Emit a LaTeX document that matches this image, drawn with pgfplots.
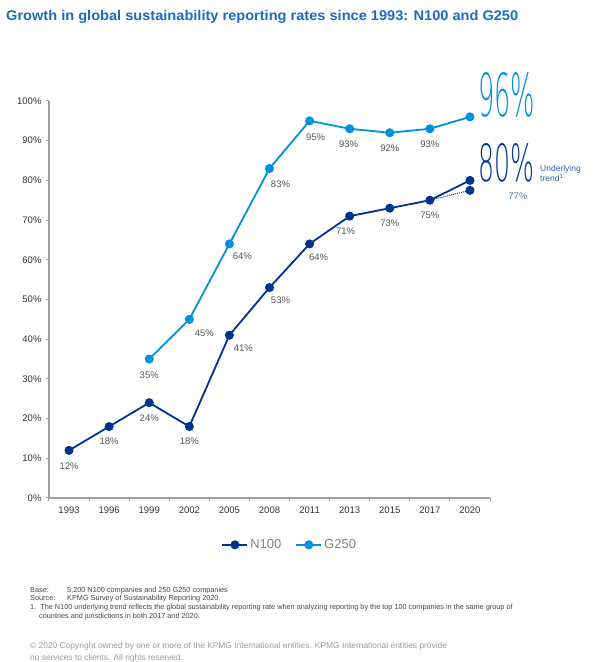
\documentclass[border=0pt]{standalone}
\usepackage{pgfplots}
\pgfplotsset{compat=1.18}
\usepackage{fontspec}
\setmainfont{Liberation Sans}
\newfontfamily\lightfont{DejaVu Sans ExtraLight}
\usepackage{graphicx}
\definecolor{kdark}{HTML}{00338D}
\definecolor{klight}{HTML}{0091DA}
\definecolor{ktitle}{HTML}{1E69C3}
\definecolor{labgray}{HTML}{555555}
\definecolor{tickgray}{HTML}{333333}
\definecolor{axgray}{HTML}{A0A0A0}
\definecolor{trendblue}{HTML}{4A7CC2}
\definecolor{foot}{HTML}{444444}
\definecolor{copy}{HTML}{9A9A9A}
\newcommand\lab[5]{\node[text=labgray, inner sep=0, font=\fontsize{9.5bp}{11bp}\selectfont, xshift=#3bp, yshift=#4bp] at (axis cs:#1,#2) {#5\%};}
\begin{document}
\begin{tikzpicture}
\useasboundingbox (0bp,0bp) rectangle (600bp,662bp);
\node[anchor=base west, text=ktitle, inner sep=0] at (6bp,641bp) {\resizebox{512bp}{\height}{\fontsize{14bp}{16bp}\selectfont\bfseries Growth in global sustainability reporting rates since 1993: N100 and G250}};
\begin{axis}[
  at={(49bp,164bp)}, anchor=south west,
  scale only axis, width=441bp, height=397bp,
  xmin=-0.5, xmax=10.5, ymin=0, ymax=100,
  clip=false,
  axis x line*=bottom, axis y line*=left,
  axis line style={axgray, line width=1.3bp, -},
  xtick={0,...,10},
  xticklabels={1993,1996,1999,2002,2005,2008,2011,2013,2015,2017,2020},
  minor xtick={-0.5,0.5,...,10.5},
  major x tick style={draw=none},
  minor x tick style={axgray, line width=1bp},
  ytick={0,10,...,100},
  y tick style={axgray, line width=1bp},
  tick align=outside,
  major tick length=3bp, minor tick length=3bp,
  /pgf/number format/assume math mode=true,
  yticklabel={\pgfmathprintnumber{\tick}\%},
  ticklabel style={text=tickgray, font=\fontsize{9.5bp}{11bp}\selectfont},
  xticklabel style={yshift=-2bp},
  yticklabel style={xshift=-1bp},
  legend style={at={(0.546,-0.118)}, anchor=center, draw=none, fill=none,
    legend columns=2, font=\fontsize{13bp}{15bp}\selectfont, text=gray,
    /tikz/every even column/.append style={column sep=12bp}},
  legend image code/.code={\draw[mark repeat=2,mark phase=2] plot coordinates {(0bp,0bp)(12.5bp,0bp)(25bp,0bp)};},
]
\addplot[kdark, line width=1.8bp, mark=*, mark size=4bp, mark options={solid, line width=1bp}] coordinates {
(0,12)(1,18)(2,24)(3,18)(4,41)(5,53)(6,64)(7,71)(8,73)(9,75)(10,80)};
\addlegendentry{N100}
\addplot[klight, line width=1.8bp, mark=*, mark size=4bp, mark options={solid, line width=1bp}] coordinates {
(2,35)(3,45)(4,64)(5,83)(6,95)(7,93)(8,92)(9,93)(10,96)};
\addlegendentry{G250}
\addplot[kdark, line width=1bp, densely dotted, forget plot] coordinates {(9,75)(10,77.5)};
\addplot[kdark, only marks, mark=*, mark size=4bp, mark options={solid, line width=1bp}, forget plot] coordinates {(10,77.5)};
% N100 labels
\lab{0}{12}{0}{-16}{12}
\lab{1}{18}{0}{-15}{18}
\lab{2}{24}{0}{-15}{24}
\lab{3}{18}{0}{-15}{18}
\lab{4}{41}{14}{-13}{41}
\lab{5}{53}{11}{-13}{53}
\lab{6}{64}{9}{-13}{64}
\lab{7}{71}{-4}{-15}{71}
\lab{8}{73}{0}{-15}{73}
\lab{9}{75}{0}{-15}{75}
% G250 labels
\lab{2}{35}{0}{-16}{35}
\lab{3}{45}{15}{-14}{45}
\lab{4}{64}{13}{-12}{64}
\lab{5}{83}{11}{-16}{83}
\lab{6}{95}{6}{-16}{95}
\lab{7}{93}{-1}{-15}{93}
\lab{8}{92}{0}{-15}{92}
\lab{9}{93}{0}{-15}{93}
\node[text=trendblue, inner sep=0, font=\fontsize{9.5bp}{11bp}\selectfont, xshift=48bp, yshift=-6bp] at (axis cs:10,77.5) {77\%};
\end{axis}
\node[anchor=south west, inner sep=0, text=klight] at (478bp,544bp) {\resizebox{57bp}{44bp}{\lightfont\fontsize{60bp}{60bp}\selectfont 96\%}};
\node[anchor=south west, inner sep=0, text=kdark] at (478bp,480bp) {\resizebox{56bp}{38bp}{\lightfont\fontsize{60bp}{60bp}\selectfont 80\%}};
\node[anchor=north west, inner sep=0, align=left, text=kdark!80!white, font=\fontsize{8.5bp}{10.5bp}\selectfont] at (540bp,497bp) {Underlying\\trend\textsuperscript{1}};
% footnotes
\begin{scope}[every node/.style={anchor=base west, inner sep=0, text=foot, font=\fontsize{7.3bp}{8bp}\selectfont}]
\node at (30bp,69bp) {Base:};
\node at (67bp,69bp) {5,200 N100 companies and 250 G250 companies};
\node at (30bp,61bp) {Source:};
\node at (67bp,61bp) {KPMG Survey of Sustainability Reporting 2020};
\node at (30bp,52bp) {1.\ \ The N100 underlying trend reflects the global sustainability reporting rate when analyzing reporting by the top 100 companies in the same group of};
\node at (39bp,43bp) {countries and jurisdictions in both 2017 and 2020.};
\end{scope}
\begin{scope}[every node/.style={anchor=base west, inner sep=0, text=copy, font=\fontsize{8.4bp}{9bp}\selectfont}]
\node at (30bp,14bp) {\textcopyright{} 2020 Copyright owned by one or more of the KPMG International entities. KPMG International entities provide};
\node at (30bp,2bp) {no services to clients. All rights reserved.};
\end{scope}
\end{tikzpicture}
\end{document}
